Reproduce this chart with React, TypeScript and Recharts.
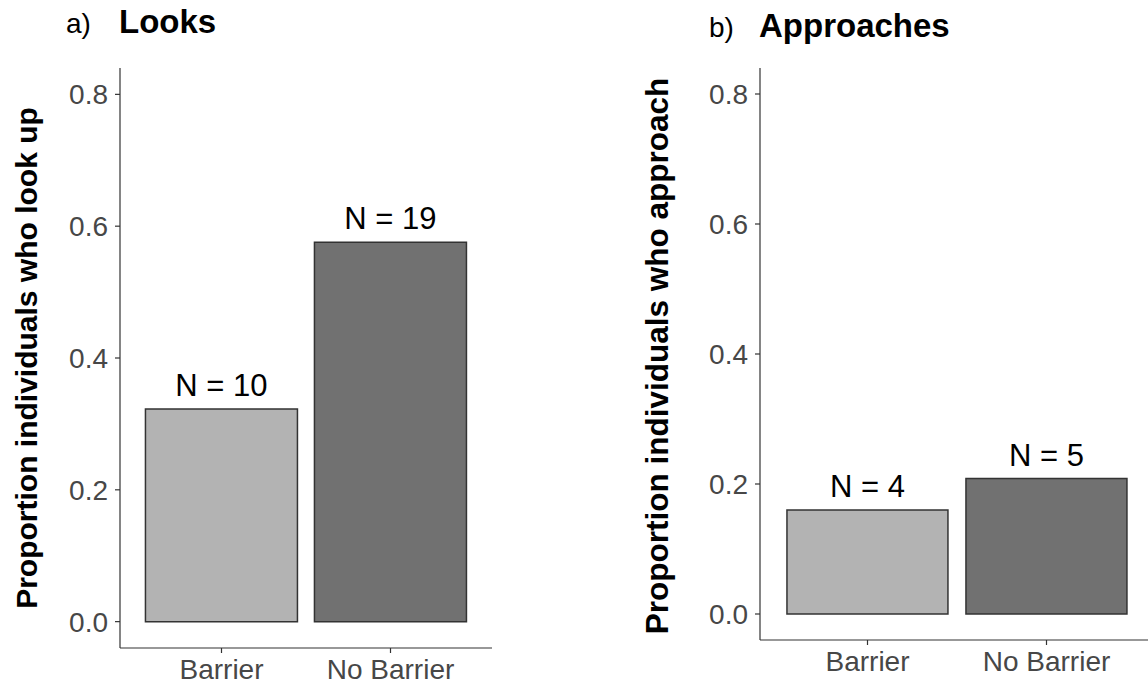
import React from "react";
import { BarChart, Bar, XAxis, YAxis, Cell, LabelList, Label } from "recharts";

// Groups shown on both panels
const conditions = ["Barrier", "No Barrier"];

// Panel a) proportion of individuals who looked up, and group N
const lookProportions = [0.3226, 0.5758];
const lookCounts = [10, 19];

// Panel b) proportion of individuals who approached, and group N
const approachProportions = [0.16, 0.2083];
const approachCounts = [4, 5];

const yTicks = [0, 0.2, 0.4, 0.6, 0.8];
const barFills = ["#b3b3b3", "#717171"];

const FONT = "'Liberation Sans', Arial, Helvetica, sans-serif";
const AXIS_COLOR = "#333333";

type PanelProps = {
  values: number[];
  counts: number[];
  yLabel: string;
  left: number;
  width: number;
  xAxisHeight: number;
  xPad: number;
  labelX: number;
  labelY: number;
  labelSize: number;
};

function Panel({ values, counts, yLabel, left, width, xAxisHeight, xPad, labelX, labelY, labelSize }: PanelProps) {
  const rows = conditions.map((c, i) => ({ condition: c, value: values[i], n: counts[i] }));
  return (
    <div style={{ position: "absolute", left, top: 0 }}>
      <BarChart
        width={width}
        height={683}
        data={rows}
        margin={{ top: 68, right: 0, bottom: 0, left: 0 }}
        barCategoryGap="5%"
      >
        <XAxis
          dataKey="condition"
          height={xAxisHeight}
          padding={{ left: xPad, right: xPad }}
          tickSize={5}
          tickMargin={6}
          stroke={AXIS_COLOR}
          strokeWidth={1.2}
          tick={{ fill: "#474747", fontSize: 28, fontFamily: FONT }}
        />
        <YAxis
          width={120}
          type="number"
          domain={[-0.04, 0.84]}
          ticks={yTicks}
          allowDataOverflow
          tickFormatter={(v: number) => v.toFixed(1)}
          tickSize={5}
          tickMargin={7}
          stroke={AXIS_COLOR}
          strokeWidth={1.2}
          tick={{ fill: "#474747", fontSize: 28, fontFamily: FONT }}
        >
          <Label
            content={() => (
              <text
                x={labelX}
                y={labelY}
                transform={`rotate(-90 ${labelX} ${labelY})`}
                textAnchor="middle"
                fontFamily={FONT}
                fontSize={labelSize}
                fontWeight="bold"
                fill="#000"
              >
                {yLabel}
              </text>
            )}
          />
        </YAxis>
        <Bar dataKey="value" stroke="#333333" strokeWidth={1.5} isAnimationActive={false}>
          {rows.map((r, i) => (
            <Cell key={r.condition} fill={barFills[i]} />
          ))}
          <LabelList
            dataKey="n"
            position="top"
            offset={13}
            formatter={(v: number) => `N = ${v}`}
            style={{ fill: "#000", fontSize: 31, fontFamily: FONT }}
          />
        </Bar>
      </BarChart>
    </div>
  );
}

export default function App() {
  return (
    <div
      style={{
        position: "absolute",
        left: 0,
        top: 0,
        width: 1148,
        height: 683,
        overflow: "hidden",
        background: "#fff",
      }}
    >
      <svg width={1148} height={50} style={{ position: "absolute", left: 0, top: 0 }}>
        <text x={66} y={33} fontFamily={FONT} fontSize={28} fill="#000">a)</text>
        <text x={119} y={33} fontFamily={FONT} fontSize={33} fontWeight="bold" fill="#000">Looks</text>
        <text x={709} y={37} fontFamily={FONT} fontSize={28} fill="#000">b)</text>
        <text x={759} y={37} fontFamily={FONT} fontSize={33} fontWeight="bold" fill="#000">Approaches</text>
      </svg>
      <Panel
        values={lookProportions}
        counts={lookCounts}
        yLabel="Proportion individuals who look up"
        left={0}
        width={492}
        xAxisHeight={35}
        xPad={17}
        labelX={37}
        labelY={358}
        labelSize={30}
      />
      <Panel
        values={approachProportions}
        counts={approachCounts}
        yLabel="Proportion individuals who approach"
        left={640}
        width={514}
        xAxisHeight={43}
        xPad={18}
        labelX={28}
        labelY={356}
        labelSize={31.5}
      />
    </div>
  );
}
